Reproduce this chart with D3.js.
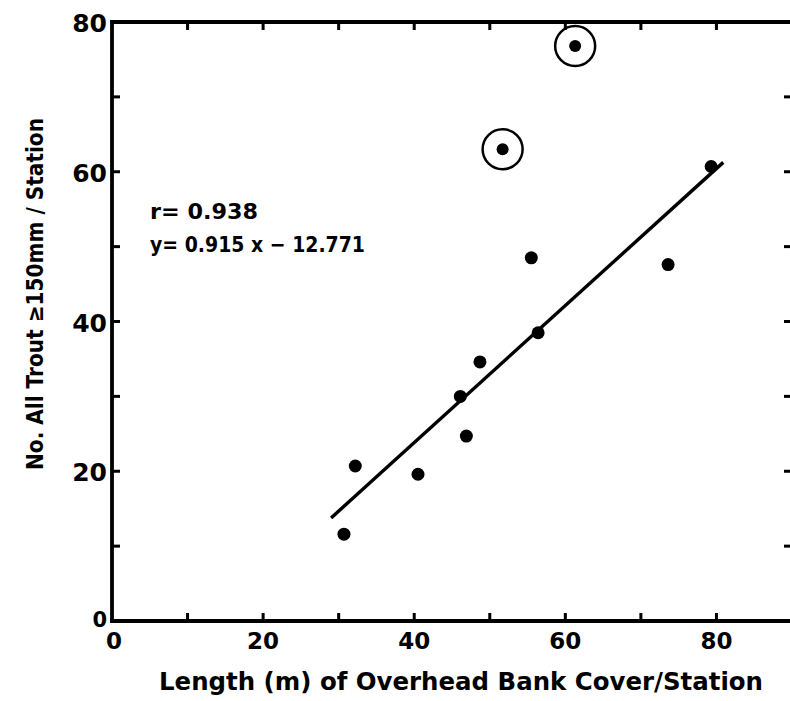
<!DOCTYPE html>
<html>
<head>
<meta charset="utf-8">
<script src="https://cdn.jsdelivr.net/npm/d3@7"></script>
<style>
  html, body { margin: 0; padding: 0; background: #fff; }
  svg { display: block; }
  text { font-family: "DejaVu Sans", sans-serif; font-weight: bold; fill: #000; }
</style>
</head>
<body>
<script>
// Overhead bank cover vs. trout count, per station
const coverLength = [30.7, 32.2, 40.5, 46.1, 46.9, 48.7, 55.5, 56.4, 73.6, 79.3];
const troutCount  = [11.6, 20.7, 19.6, 30.0, 24.7, 34.6, 48.5, 38.5, 47.6, 60.7];

// the two circled stations (excluded from the fit)
const outlierLength = [51.7, 61.3];
const outlierCount  = [63.0, 76.8];

const fitSlope = 0.915;
const fitIntercept = -12.771;
const fitRange = [29.0, 80.9];

const xTicks = [0, 20, 40, 60, 80];
const yTicks = [0, 20, 40, 60, 80];
const minorStep = 10;

const statR = "r= 0.938";
const statEq = "y= 0.915 x \u2212 12.771";

const width = 790, height = 701;
const margin = { top: 22, right: -2, bottom: 80, left: 112 };

const svg = d3.select("body").append("svg")
  .attr("width", width)
  .attr("height", height);

const x = d3.scaleLinear().domain([0, 90]).range([margin.left, width - margin.right]);
const y = d3.scaleLinear().domain([0, 80]).range([height - margin.bottom, margin.top]);

const allTicks = d3.range(0, 91, minorStep);
const allYTicks = d3.range(0, 81, minorStep);

// --- frame ---
const frame = svg.append("g")
  .attr("stroke", "#000")
  .attr("stroke-width", 3.8)
  .attr("fill", "none");

frame.append("line") // left
  .attr("x1", x(0)).attr("x2", x(0))
  .attr("y1", y(0) + 2).attr("y2", y(80) - 2);
frame.append("line") // bottom
  .attr("x1", x(0) - 2).attr("x2", x(90))
  .attr("y1", y(0)).attr("y2", y(0));
frame.append("line") // top
  .attr("x1", x(0) - 2).attr("x2", x(90))
  .attr("y1", y(80)).attr("y2", y(80));
frame.append("line") // right (mostly cut off)
  .attr("x1", x(90)).attr("x2", x(90))
  .attr("y1", y(0)).attr("y2", y(80));

// inward ticks
const tickLen = 8;
const ticks = svg.append("g").attr("stroke", "#000").attr("stroke-width", 3);

ticks.selectAll(".tb").data(allTicks.filter(d => d > 0 && d < 90)).join("line")
  .attr("class", "tb")
  .attr("x1", d => x(d)).attr("x2", d => x(d))
  .attr("y1", y(0)).attr("y2", y(0) - tickLen);
ticks.selectAll(".tt").data(allTicks.filter(d => d > 0 && d < 90)).join("line")
  .attr("class", "tt")
  .attr("x1", d => x(d)).attr("x2", d => x(d))
  .attr("y1", y(80)).attr("y2", y(80) + tickLen);
ticks.selectAll(".tl").data(allYTicks.filter(d => d > 0 && d < 80)).join("line")
  .attr("class", "tl")
  .attr("x1", x(0)).attr("x2", x(0) + tickLen)
  .attr("y1", d => y(d)).attr("y2", d => y(d));
ticks.selectAll(".tr").data(allYTicks.filter(d => d > 0 && d < 80)).join("line")
  .attr("class", "tr")
  .attr("x1", x(90)).attr("x2", x(90) - tickLen)
  .attr("y1", d => y(d)).attr("y2", d => y(d));

// tick labels
svg.append("g").selectAll("text").data(xTicks).join("text")
  .attr("x", d => x(d) + (d === 0 ? 2 : 0))
  .attr("y", y(0) + 28)
  .attr("text-anchor", "middle")
  .attr("font-size", 23)
  .text(d => d);

svg.append("g").selectAll("text").data(yTicks).join("text")
  .attr("x", x(0) - 5)
  .attr("y", d => y(d) + (d === 0 ? 6 : 10))
  .attr("text-anchor", "end")
  .attr("font-size", d => d === 0 ? 21 : 25)
  .text(d => d);

// axis titles
svg.append("text")
  .attr("x", 461)
  .attr("y", 690)
  .attr("text-anchor", "middle")
  .attr("font-size", 25)
  .attr("textLength", 604)
  .attr("lengthAdjust", "spacingAndGlyphs")
  .text("Length (m)  of  Overhead Bank Cover/Station");

svg.append("text")
  .attr("transform", "translate(43,294) rotate(-90)")
  .attr("text-anchor", "middle")
  .attr("font-size", 23)
  .attr("textLength", 352)
  .attr("lengthAdjust", "spacingAndGlyphs")
  .text("No. All Trout \u2265150mm / Station");

// regression stats
svg.append("text")
  .attr("x", 150).attr("y", 219)
  .attr("font-size", 22)
  .attr("textLength", 108)
  .attr("lengthAdjust", "spacingAndGlyphs")
  .text(statR);
svg.append("text")
  .attr("x", 150).attr("y", 252)
  .attr("font-size", 22)
  .attr("textLength", 215)
  .attr("lengthAdjust", "spacingAndGlyphs")
  .text(statEq);

// fitted line
svg.append("line")
  .attr("x1", x(fitRange[0])).attr("y1", y(fitSlope * fitRange[0] + fitIntercept))
  .attr("x2", x(fitRange[1])).attr("y2", y(fitSlope * fitRange[1] + fitIntercept))
  .attr("stroke", "#000")
  .attr("stroke-width", 3.4);

// points
svg.append("g").selectAll("circle").data(coverLength).join("circle")
  .attr("cx", d => x(d))
  .attr("cy", (d, i) => y(troutCount[i]))
  .attr("r", 6.5)
  .attr("fill", "#000");

const outl = svg.append("g");
outl.selectAll(".ring").data(outlierLength).join("circle")
  .attr("class", "ring")
  .attr("cx", d => x(d))
  .attr("cy", (d, i) => y(outlierCount[i]))
  .attr("r", 20)
  .attr("fill", "none")
  .attr("stroke", "#000")
  .attr("stroke-width", 2.5);
outl.selectAll(".dot").data(outlierLength).join("circle")
  .attr("class", "dot")
  .attr("cx", d => x(d))
  .attr("cy", (d, i) => y(outlierCount[i]))
  .attr("r", 6)
  .attr("fill", "#000");
</script>
</body>
</html>
